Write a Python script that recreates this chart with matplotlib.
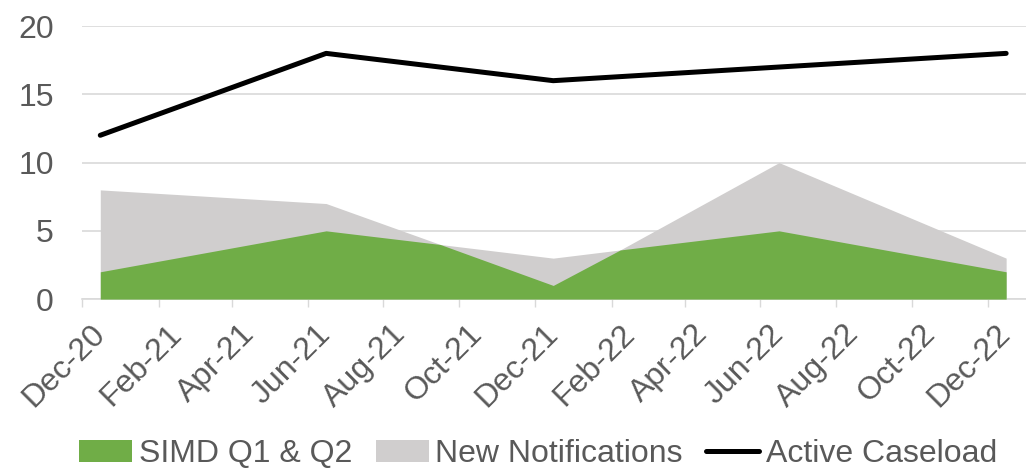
import numpy as np
import pandas as pd
import matplotlib
matplotlib.use('Agg')
import matplotlib.pyplot as plt
import matplotlib.dates as mdates

plt.rcParams['font.family'] = ['Liberation Sans', 'DejaVu Sans']

# area series (dates include two intermediate points where the areas meet)
area_dates = pd.to_datetime(['2020-12-16', '2021-06-16', '2021-09-16', '2021-12-16',
                             '2022-02-08', '2022-06-16', '2022-12-16'])
new_notifications = [8, 7, 4, 3, 3.6, 10, 3]
simd_q1_q2 = [2, 5, 4, 1, 3.6, 5, 2]

# line series
line_dates = pd.to_datetime(['2020-12-16', '2021-06-16', '2021-12-16', '2022-06-16', '2022-12-16'])
active_caseload = [12, 18, 16, 17, 18]

text_col = '#595959'
grid_col = '#D9D9D9'

fig = plt.figure(figsize=(10.26, 4.74), dpi=100)
ax = fig.add_axes([0.0796, 0.369, 0.9204, 0.576])

ax.fill_between(area_dates, new_notifications, color='#D0CECE', lw=0, label='New Notifications', zorder=2)
ax.fill_between(area_dates, simd_q1_q2, color='#70AD47', lw=0, label='SIMD Q1 & Q2', zorder=3)
ax.plot(line_dates, active_caseload, color='black', lw=3.6, solid_capstyle='round', label='Active Caseload', zorder=4)

ax.set_ylim(0, 20)
ax.set_yticks([0, 5, 10, 15, 20])
ax.set_xlim(pd.Timestamp('2020-12-01'), pd.Timestamp('2023-01-01'))

ax.xaxis.set_major_locator(mdates.MonthLocator(bymonth=[2, 4, 6, 8, 10, 12], bymonthday=1))
ax.xaxis.set_major_formatter(plt.NullFormatter())
ax.xaxis.set_minor_locator(mdates.MonthLocator(bymonth=[2, 4, 6, 8, 10, 12], bymonthday=16))
ax.xaxis.set_minor_formatter(mdates.DateFormatter('%b-%y'))
ax.tick_params(axis='x', which='major', length=6, width=1, color=grid_col)
ax.tick_params(axis='x', which='minor', length=0, pad=22, labelsize=23, labelcolor=text_col)
for lbl in ax.get_xticklabels(minor=True):
    lbl.set_rotation(45)
    lbl.set_ha('right')
    lbl.set_va('center')
    lbl.set_rotation_mode('anchor')

ax.tick_params(axis='y', length=0, pad=20, labelsize=23, labelcolor=text_col)
ax.grid(axis='y', color=grid_col, lw=1.2, zorder=0)
ax.set_axisbelow(True)
for s in ['top', 'right', 'left']:
    ax.spines[s].set_visible(False)
ax.spines['bottom'].set_color(grid_col)
ax.spines['bottom'].set_linewidth(1.2)

handles, labels = ax.get_legend_handles_labels()
order = [1, 0, 2]
leg = fig.legend([handles[i] for i in order], [labels[i] for i in order],
                 loc='lower center', bbox_to_anchor=(0.5245, -0.05), ncol=3, frameon=False,
                 fontsize=23, handlelength=1.65, handletextpad=0.2, columnspacing=0.75)
for t in leg.get_texts():
    t.set_color(text_col)

fig.savefig('out.png', dpi=100)
